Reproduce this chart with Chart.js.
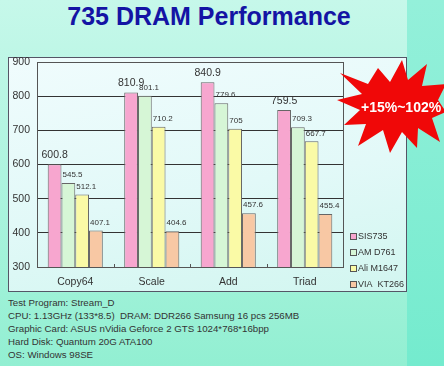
<!DOCTYPE html>
<html>
<head>
<meta charset="utf-8">
<script src="https://cdn.jsdelivr.net/npm/chart.js@4/dist/chart.umd.min.js"></script>
<style>
  html, body { margin:0; padding:0; }
  body { width:444px; height:366px; overflow:hidden; position:relative;
    background: linear-gradient(180deg, #c6f8ea 0%, #a8f3dc 60%, #92efd2 100%);
    font-family: "Liberation Sans", Arial, sans-serif; }
  #rightcol { position:absolute; left:407px; top:0; width:37px; height:366px;
    background: linear-gradient(180deg, #94f0da 0%, #74ebce 100%); }
  #title { position:absolute; left:0; width:418px; top:2px; text-align:center;
    font-weight:bold; font-size:25px; color:#1414a4; }
  #box { position:absolute; left:8px; top:57px; width:397px; height:233px;
    border:1px solid #556; background: linear-gradient(170deg, #f0fcfd 0%, #e2f9f8 55%, #d2f6f0 100%); }
  #notes { position:absolute; left:8px; top:297px; font-size:9.7px; line-height:12.9px; color:#333; }
  canvas { position:absolute; left:0; top:0; }
</style>
</head>
<body>
<div id="rightcol"></div>
<div id="title">735 DRAM Performance</div>
<div id="box"></div>
<div id="notes">
Test Program: Stream_D<br>
CPU: 1.13GHz (133*8.5)&nbsp; DRAM: DDR266 Samsung 16 pcs 256MB<br>
Graphic Card: ASUS nVidia Geforce 2 GTS 1024*768*16bpp<br>
Hard Disk: Quantum 20G ATA100<br>
OS: Windows 98SE
</div>
<canvas id="c" width="444" height="366"></canvas>
<script>
const categories = ["Copy64", "Scale", "Add", "Triad"];
const seriesNames = ["SIS735", "AM D761", "Ali M1647", "VIA  KT266"];
const sis735 = [600.8, 810.9, 840.9, 759.5];
const amd761 = [545.5, 801.1, 779.6, 709.3];
const aliM1647 = [512.1, 710.2, 705, 667.7];
const viaKT266 = [407.1, 404.6, 457.6, 455.4];
const yTicks = [300, 400, 500, 600, 700, 800, 900];
const badgeText = "+15%~102%";

const fills = ["#f7a6cf", "#d6f6d6", "#fafaa6", "#f8c8a4"];
const seriesData = [sis735, amd761, aliM1647, viaKT266];

const labelPlugin = {
  id: 'labels',
  afterDatasetsDraw(chart) {
    const ctx = chart.ctx;
    ctx.save();
    chart.data.datasets.forEach((ds, di) => {
      const meta = chart.getDatasetMeta(di);
      meta.data.forEach((bar, i) => {
        const v = ds.data[i];
        ctx.fillStyle = '#333';
        ctx.textBaseline = 'middle';
        if (di === 0) {
          ctx.font = '10.5px "Liberation Sans", Arial';
          ctx.textAlign = 'center';
          ctx.fillText(String(v), bar.x, bar.y - 9);
        } else {
          ctx.font = '8px "Liberation Sans", Arial';
          ctx.textAlign = 'left';
          ctx.fillText(String(v), bar.x - bar.width / 2 + 1, bar.y - 8);
        }
      });
    });
    ctx.restore();
  },
  afterDraw(chart) {
    const ctx = chart.ctx;
    const a = chart.chartArea;
    ctx.save();
    ctx.strokeStyle = '#555';
    ctx.lineWidth = 1;
    ctx.strokeRect(Math.round(a.left) + 0.5, Math.round(a.top) + 0.5, Math.round(a.right - a.left), Math.round(a.bottom - a.top));
    const xs = chart.scales.x;
    for (let i = 1; i < chart.data.labels.length; i++) {
      const x = Math.round((xs.getPixelForTick(i - 1) + xs.getPixelForTick(i)) / 2) + 0.5;
      ctx.beginPath(); ctx.moveTo(x, a.bottom - 3); ctx.lineTo(x, a.bottom); ctx.stroke();
    }
    const ly = [237, 253, 269, 285];
    chart.data.datasets.forEach((ds, i) => {
      ctx.fillStyle = ds.backgroundColor;
      ctx.fillRect(350.5, ly[i] - 3.5, 6, 6);
      ctx.strokeStyle = '#555';
      ctx.strokeRect(350.5, ly[i] - 3.5, 6, 6);
      ctx.fillStyle = '#333';
      ctx.font = '9px "Liberation Sans", Arial';
      ctx.textAlign = 'left';
      ctx.textBaseline = 'middle';
      ctx.fillText(ds.label, 358, ly[i]);
    });
    const star = [[340,73],[368,84],[378,68],[390,82],[402,60],[408,80],[427,64],[422,86],[446,84],[438,100],[446,112],[432,118],[440,142],[418,128],[417,148],[402,132],[390,153],[383,130],[358,146],[366,124],[344,125],[360,110],[337,100],[362,94]];
    ctx.beginPath();
    star.forEach((p, i) => i ? ctx.lineTo(p[0], p[1]) : ctx.moveTo(p[0], p[1]));
    ctx.closePath();
    ctx.fillStyle = '#f00808';
    ctx.fill();
    ctx.fillStyle = '#ffffff';
    ctx.font = 'bold 14px "Liberation Sans", Arial';
    ctx.textAlign = 'left';
    ctx.textBaseline = 'middle';
    ctx.fillText(badgeText, 361, 108);
    ctx.restore();
  }
};

new Chart(document.getElementById('c'), {
  type: 'bar',
  data: {
    labels: categories,
    datasets: seriesNames.map((n, i) => ({
      label: n,
      data: seriesData[i],
      backgroundColor: fills[i],
      borderColor: '#666',
      borderWidth: 1,
      categoryPercentage: 0.72,
      barPercentage: 1.0
    }))
  },
  options: {
    responsive: false,
    animation: false,
    devicePixelRatio: 1,
    layout: { padding: { top: 62, right: 101, bottom: 0, left: 0 } },
    plugins: { legend: { display: false }, tooltip: { enabled: false } },
    scales: {
      y: {
        min: 300, max: 900,
        afterBuildTicks(s) { s.ticks = yTicks.map(v => ({ value: v })); },
        afterFit(s) { s.width = 37; },
        ticks: { color: '#333', font: { size: 10.5, family: '"Liberation Sans", Arial' }, padding: 7 },
        grid: { color: '#333', lineWidth: 1, drawTicks: false },
        border: { display: true, color: '#555' }
      },
      x: {
        afterFit(s) { s.height = 99; },
        grid: { display: false },
        border: { display: false },
        ticks: { color: '#333', font: { size: 10.5, family: '"Liberation Sans", Arial' }, padding: 1 }
      }
    }
  },
  plugins: [labelPlugin]
});
</script>
</body>
</html>
